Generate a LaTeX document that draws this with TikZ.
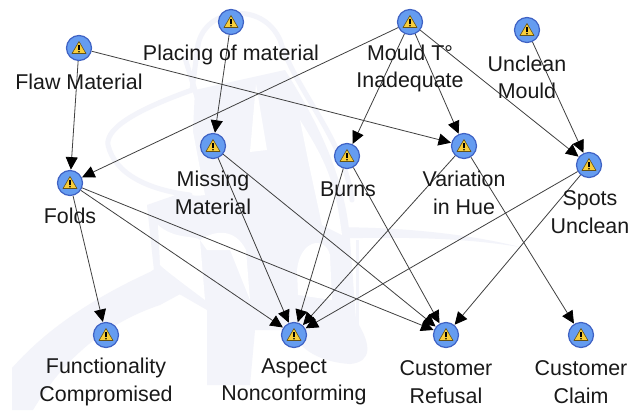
\documentclass[tikz,border=0pt]{standalone}
\usepackage{fontspec}
\setmainfont{Liberation Sans}
\usetikzlibrary{arrows.meta}
\definecolor{wm}{HTML}{F3F4FA}
\definecolor{nodefill}{HTML}{659CF0}
\definecolor{noderim}{HTML}{3F62C4}
\definecolor{warn}{HTML}{F8CE3A}
\definecolor{edge}{HTML}{404040}
\tikzset{
 alert/.style={circle,draw=noderim,line width=1.2pt,fill=nodefill,minimum size=25pt,inner sep=0pt,
  path picture={
   \fill[warn,draw=black!60!warn,line width=.6pt,line join=round]
     ([yshift=6.5pt]path picture bounding box.center) -- ++(-7,12) -- ++(14,0) -- cycle;
   \fill[black] ([xshift=-.8pt,yshift=-2pt]path picture bounding box.center) rectangle ++(1.6pt,5.5pt);
   \fill[black] ([yshift=-3.8pt]path picture bounding box.center) circle (.9pt);
  }},
 lbl/.style={font=\fontsize{21.4}{27.5}\selectfont,align=center,inner sep=0pt,text=black!90},
 link/.style={draw=edge,line width=.8pt,-{Triangle[length=12.5pt,width=12pt,color=black]},shorten >=.3pt},
 wmline/.style={draw=wm,line width=5pt,fill=none,line cap=round,line join=round}
}
\begin{document}
\begin{tikzpicture}[x=1pt,y=-1pt]
\useasboundingbox (0,0) rectangle (640,410);
\fill[white] (0,0) rectangle (640,410);
% watermark: swoosh
\fill[wm] (12,368) .. controls (50,325) and (100,295) .. (150,272) -- (200,240)
 .. controls (280,222) and (420,222) .. (520,247) .. controls (440,234) and (360,238) .. (280,240)
 -- (160,305) .. controls (100,325) and (60,365) .. (33,410) -- (12,410) -- cycle;
% watermark: figure
\fill[wm] (195,90) -- (285,70) .. controls (310,110) and (345,170) .. (350,240)
 -- (356,320) .. controls (372,345) and (372,362) .. (350,364) .. controls (320,362) and (300,350) .. (290,330)
 -- (255,330) -- (250,385) -- (207,385) -- (207,310) -- (155,280) -- (147,205) -- (190,190) -- cycle;
\fill[white] (112,145) .. controls (120,135) and (160,115) .. (188,105) -- (205,195) .. controls (180,200) and (130,175) .. (112,145) -- cycle;
\fill[white] (256,84) -- (267,150) -- (250,152) -- cycle;
\fill[white] (300,120) .. controls (325,160) and (335,180) .. (342,235) -- (322,225) -- (308,160) -- cycle;
\fill[white] (158,225) .. controls (175,240) and (195,235) .. (200,240) -- (205,300) .. controls (185,285) and (165,270) .. (160,265) -- cycle;
\fill[white] (200,240) .. controls (215,230) and (235,228) .. (246,250) -- (250,300) -- (230,250) -- (207,250) -- cycle;
\fill[white] (297,270) .. controls (300,240) and (325,235) .. (330,255) -- (332,300) -- (298,295) -- cycle;
\draw[wmline] (198,45) .. controls (205,8) and (262,0) .. (280,40) .. controls (295,90) and (345,140) .. (352,200);
\draw[wmline] (198,45) -- (192,90) .. controls (150,105) and (105,125) .. (108,145) .. controls (115,175) and (150,190) .. (190,195);
\draw[wmline] (185,58) -- (197,97);
\draw[wm,line width=3pt] (357,240) -- (357,325);
% nodes
\node[alert] (flaw) at (79,48) {};
\node[alert] (placing) at (231,22) {};
\node[alert] (mould) at (410,22) {};
\node[alert] (unclean) at (527,30) {};
\node[alert] (folds) at (70,183) {};
\node[alert] (missing) at (213,146) {};
\node[alert] (burns) at (347,156) {};
\node[alert] (variation) at (464,146) {};
\node[alert] (spots) at (589,165) {};
\node[alert] (func) at (106,335) {};
\node[alert] (aspect) at (294,335) {};
\node[alert] (refusal) at (446,335) {};
\node[alert] (claim) at (581,335) {};
% connectors
\foreach \a/\b in {flaw/folds,flaw/variation,placing/missing,mould/folds,mould/burns,mould/variation,mould/spots,unclean/spots,folds/func,folds/aspect,folds/refusal,missing/aspect,missing/refusal,burns/aspect,burns/refusal,variation/aspect,variation/claim,spots/aspect,spots/refusal}
  \draw[link] (\a) -- (\b);
% labels
\node[lbl] (lflaw) at (79,82) {Flaw Material};
\node[lbl] (lplacing) at (231,55) {Placing of material};
\node[lbl] (lmould) at (410,68.5) {Mould T°\\Inadequate};
\node[lbl] (lunclean) at (527,77.5) {Unclean\\Mould};
\node[lbl] (lfolds) at (70,216) {Folds};
\node[lbl] (lmissing) at (213,193) {Missing\\Material};
\node[lbl] (lburns) at (348,189) {Burns};
\node[lbl] (lvariation) at (464,193) {Variation\\in Hue};
\node[lbl] (lspots) at (590,212) {Spots\\Unclean};
\node[lbl] (lfunc) at (106,382) {Functionality\\Compromised};
\node[lbl] (laspect) at (294,382) {Aspect\\Nonconforming};
\node[lbl] (lrefusal) at (446,382) {Customer\\Refusal};
\node[lbl] (lclaim) at (581,382) {Customer\\Claim};
\end{tikzpicture}
\end{document}
